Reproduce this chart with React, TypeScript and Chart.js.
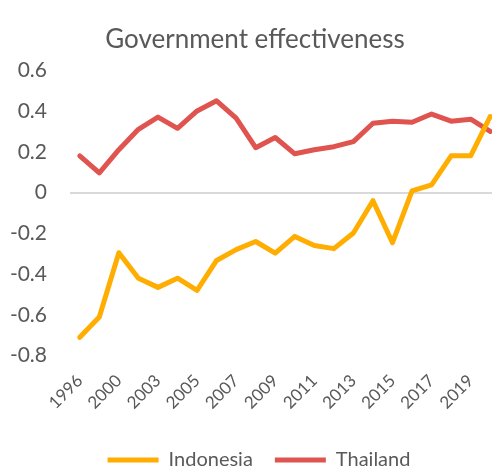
import React, { useEffect, useRef } from "react";
import { Chart, registerables } from "chart.js";

Chart.register(...registerables);

const years = [
  "1996", "1998", "2000", "2002", "2003", "2004", "2005", "2006", "2007", "2008", "2009",
  "2010", "2011", "2012", "2013", "2014", "2015", "2016", "2017", "2018", "2019", "2020",
];
const indonesia = [
  -0.71, -0.61, -0.295, -0.42, -0.465, -0.42, -0.48, -0.333, -0.28, -0.24, -0.297,
  -0.215, -0.26, -0.275, -0.198, -0.04, -0.246, 0.008, 0.038, 0.18, 0.18, 0.373,
];
const thailand = [
  0.18, 0.096, 0.21, 0.31, 0.37, 0.315, 0.4, 0.45, 0.365, 0.22, 0.27,
  0.19, 0.21, 0.225, 0.25, 0.34, 0.35, 0.345, 0.385, 0.35, 0.36, 0.3,
];
const yMin = -0.8;
const yMax = 0.6;
const yStep = 0.2;

const FONT = "Lato, 'Open Sans', sans-serif";
const TEXT = "#595959";

const legendShift = {
  id: "legendShift",
  afterLayout(chart: any) {
    if (chart.legend) chart.legend.left += 8;
  },
};

export default function App() {
  const ref = useRef<HTMLCanvasElement | null>(null);
  useEffect(() => {
    if (!ref.current) return;
    const chart = new Chart(ref.current, {
      type: "line",
      plugins: [legendShift],
      data: {
        labels: years,
        datasets: [
          {
            label: "Indonesia",
            data: indonesia,
            borderColor: "#FFAD00",
            backgroundColor: "#FFAD00",
            borderWidth: 5,
            pointRadius: 0,
            tension: 0,
            borderCapStyle: "round",
            borderJoinStyle: "round",
          },
          {
            label: "Thailand",
            data: thailand,
            borderColor: "#E0544F",
            backgroundColor: "#E0544F",
            borderWidth: 5,
            pointRadius: 0,
            tension: 0,
            borderCapStyle: "round",
            borderJoinStyle: "round",
          },
        ],
      },
      options: {
        animation: false,
        responsive: false,
        layout: { padding: { left: 10, right: 0, top: 24, bottom: 0 } },
        plugins: {
          title: {
            display: true,
            text: "Government effectiveness",
            color: TEXT,
            font: { family: FONT, size: 26, weight: "normal" },
            padding: { top: 0, bottom: 15 },
          },
          legend: {
            position: "bottom",
            labels: {
              color: TEXT,
              font: { family: FONT, size: 20 },
              usePointStyle: true,
              pointStyle: "line",
              pointStyleWidth: 51,
              boxWidth: 51,
              boxHeight: 5,
              padding: 22,
            },
          },
          tooltip: { enabled: false },
        },
        scales: {
          x: {
            offset: true,
            grid: { display: false, drawTicks: false },
            border: { display: false },
            afterFit: (s: any) => {
              s.paddingLeft = 0;
              s.paddingRight = 0;
            },
            ticks: {
              color: TEXT,
              font: { family: FONT, size: 17 },
              autoSkip: false,
              minRotation: 45,
              maxRotation: 45,
              padding: 15,
              callback: (_v: any, i: number) => (i % 2 === 0 ? years[i] : ""),
            },
          },
          y: {
            min: yMin,
            max: yMax,
            border: { display: false },
            afterFit: (s: any) => {
              s.width = 60;
            },
            grid: {
              drawTicks: false,
              lineWidth: 2,
              color: (ctx: any) =>
                ctx.tick && Math.abs(ctx.tick.value) < 1e-9 ? "#D9D9D9" : "rgba(0,0,0,0)",
            },
            ticks: {
              stepSize: yStep,
              color: TEXT,
              font: { family: FONT, size: 21 },
              padding: 23,
              callback: (v: any) => Number(Number(v).toFixed(1)).toString(),
            },
          },
        },
      },
    });
    return () => chart.destroy();
  }, []);
  return (
    <div style={{ position: "fixed", left: 0, top: 0, width: 492, height: 470, overflow: "hidden", background: "#fff" }}>
      <canvas ref={ref} width={500} height={480} style={{ display: "block" }} />
    </div>
  );
}
